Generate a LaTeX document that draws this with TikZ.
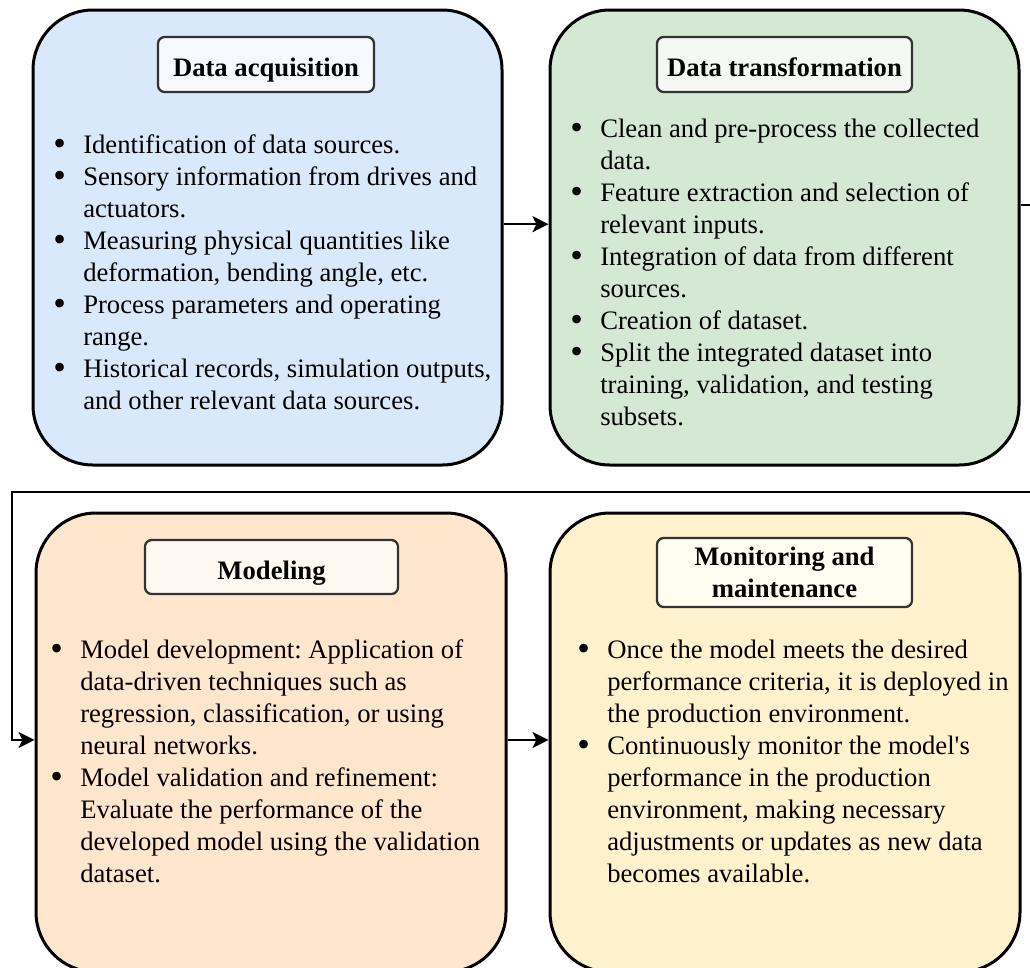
\documentclass[tikz,border=0pt]{standalone}
\usepackage{fontspec}
\setmainfont{Liberation Serif}
\usetikzlibrary{arrows.meta}
\frenchspacing

\definecolor{acqfill}{HTML}{DAE8FC}
\definecolor{trfill}{HTML}{D5E8D4}
\definecolor{modfill}{HTML}{FFE6CC}
\definecolor{monfill}{HTML}{FFF2CC}
\definecolor{hdline}{HTML}{333333}

% bullet hanging to the left of the text column
\newcommand\bitem{\par\noindent\llap{\raisebox{-0.09em}{\scalebox{1.35}{\textbullet}}\hskip13pt}}
% a column of bullet points whose baseline is its first line
\newcommand\itemlist[2]{\vtop{\hsize=#1\raggedright\parindent=0pt\fontsize{20}{24}\selectfont #2}}

\tikzset{
  stage/.style={draw=black, line width=2.25pt, rounded corners=45pt, inner sep=0pt},
  headbox/.style={draw=hdline, line width=1.7pt, rounded corners=5pt, inner sep=0pt,
    font=\bfseries\fontsize{20}{24}\selectfont},
  oneline/.style={text height=19pt, text depth=1pt},
  bullets/.style={anchor=base west, inner sep=0pt},
  conn/.style={line width=1.9pt, -{Stealth[length=12pt,width=12pt,inset=3pt]}}
}

\begin{document}
\begin{tikzpicture}[x=0.75pt, y=-0.75pt]
\useasboundingbox (0,0) rectangle (1030,967);

% stage boxes
\node[stage, fill=acqfill, minimum width=351.75pt, minimum height=341.25pt] (acq) at (267.5,237.5) {};
\node[stage, fill=trfill,  minimum width=351.75pt, minimum height=341.25pt] (tr)  at (784.5,237.5) {};
\node[stage, fill=modfill, minimum width=352.5pt,  minimum height=344.25pt] (mod) at (271,742.5) {};
\node[stage, fill=monfill, minimum width=352.5pt,  minimum height=344.25pt] (mon) at (785,742.5) {};

% headings
\node[headbox, oneline, fill=acqfill!25!white, minimum width=162pt, minimum height=41.25pt] (acqhead) at (266,64.5) {Data acquisition};
\node[headbox, oneline, fill=trfill!25!white, minimum width=191.25pt, minimum height=41.25pt] (trhead) at (784.5,64.5) {Data transformation};
\node[headbox, oneline, fill=modfill!25!white, minimum width=189.75pt, minimum height=40.5pt] (modhead) at (271.5,567) {Modeling};
\node[headbox, align=center, fill=monfill!25!white, minimum width=191.25pt, minimum height=51.75pt] (monhead) at (784.5,572.5) {Monitoring and\\maintenance};

% bullet points
\node[bullets] (acqtext) at (83,153) {\itemlist{340pt}{%
\bitem Identification of data sources.
\bitem Sensory information from drives and\\actuators.
\bitem Measuring physical quantities like\\deformation, bending angle, etc.
\bitem Process parameters and operating\\range.
\bitem Historical records, simulation outputs,\\and other relevant data sources.}};

\node[bullets] (trtext) at (600,137) {\itemlist{340pt}{%
\bitem Clean and pre-process the collected\\data.
\bitem Feature extraction and selection of\\relevant inputs.
\bitem Integration of data from different\\sources.
\bitem Creation of dataset.
\bitem Split the integrated dataset into\\training, validation, and testing\\subsets.}};

\node[bullets] (modtext) at (80,658) {\itemlist{340pt}{%
\bitem Model development: Application of\\data-driven techniques such as\\regression, classification, or using\\neural networks.
\bitem Model validation and refinement:\\Evaluate the performance of the\\developed model using the validation\\dataset.}};

\node[bullets] (montext) at (607,658) {\itemlist{340pt}{%
\bitem Once the model meets the desired\\performance criteria, it is deployed in\\the production environment.
\bitem Continuously monitor the model\textquotesingle s\\performance in the production\\environment, making necessary\\adjustments or updates as new data\\becomes available.}};

% connectors
\coordinate (turnR) at (1045,492);
\coordinate (turnL) at (12,492);
\draw[conn] ([yshift=10pt]acq.east) -- ([yshift=10pt]tr.west);
\draw[conn] ([yshift=24.4pt]tr.east) -| (turnR) -- (turnL) |- ([yshift=1.9pt]mod.west);
\draw[conn] ([yshift=1.9pt]mod.east) -- ([yshift=1.9pt]mon.west);
\end{tikzpicture}
\end{document}
